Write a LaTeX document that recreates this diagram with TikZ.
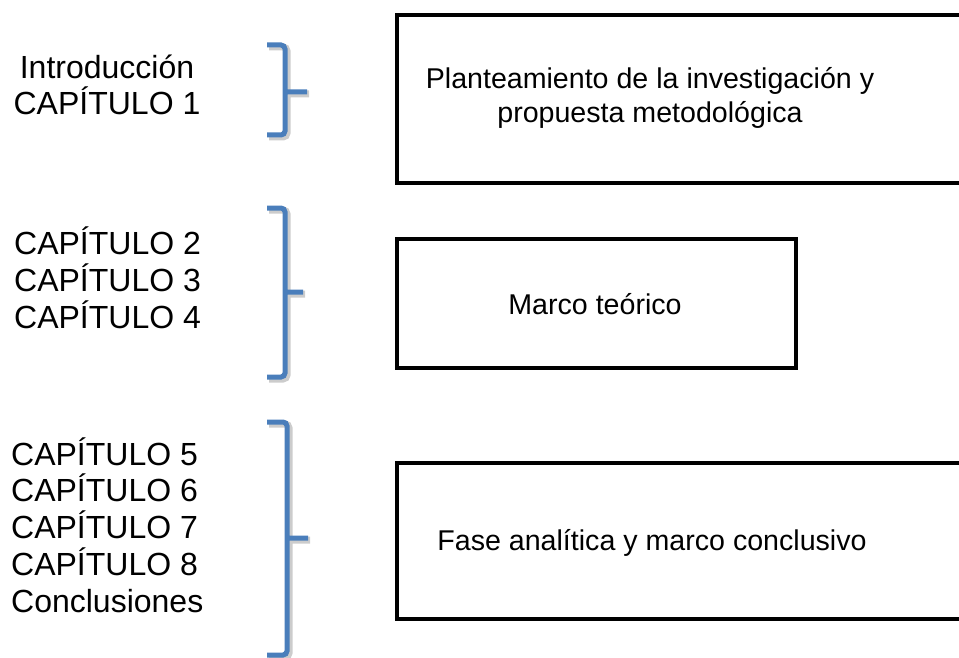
\documentclass[tikz,border=0pt]{standalone}
\usepackage{fontspec}
\setmainfont{Liberation Sans}
\usetikzlibrary{calc}

\definecolor{bracecol}{RGB}{74,126,187}
\tikzset{
  lefttxt/.style={inner sep=0pt, font=\fontsize{32}{36.7}\selectfont},
  boxtxt/.style={inner sep=0pt, align=center, font=\fontsize{28.6}{34}\selectfont},
  chapbox/.style={draw, line width=4pt, inner sep=0pt, anchor=north west}
}

\begin{document}
\begin{tikzpicture}[x=1pt,y=-1pt]
\useasboundingbox (0,0) rectangle (959,658);
\clip (0,0) rectangle (959,658);
% braces: top/mid/bottom/vertical/tip
\foreach \t/\m/\b/\v/\p in {45/92/135/285/307,208/292/377/285/303,422/538/655/287/308}{
  \draw[gray!40, line width=7pt, rounded corners=4pt, shift={(2,2)}]
    (267,\t) -- (\v,\t) -- (\v,\b) -- (267,\b) (\v,\m) -- (\p,\m);
  \draw[bracecol, line width=5pt, rounded corners=4pt]
    (267,\t) -- (\v,\t) -- (\v,\b) -- (267,\b) (\v,\m) -- (\p,\m);
}
% left column
\node[lefttxt, align=center, anchor=base] (intro) at (107,115) {Introducción\\CAPÍTULO 1};
\node[lefttxt, align=left, anchor=base west] (cap24) at (14,328) {CAPÍTULO 2\\CAPÍTULO 3\\CAPÍTULO 4};
\node[lefttxt, align=left, anchor=base west] (cap58) at (11,612) {CAPÍTULO 5\\CAPÍTULO 6\\CAPÍTULO 7\\CAPÍTULO 8\\Conclusiones};
% boxes
\node[chapbox, minimum width=620pt, minimum height=168pt] (plan) at (395,13) {};
\node[chapbox, minimum width=399pt, minimum height=129pt] (marco) at (395,237) {};
\node[chapbox, minimum width=620pt, minimum height=156pt] (fase) at (395,461) {};
\node[boxtxt, anchor=base] (plantxt) at (650,123) {Planteamiento de la investigación y\\propuesta metodológica};
\node[boxtxt, anchor=base] (marcotxt) at (595,314) {Marco teórico};
\node[boxtxt, anchor=base] (fasetxt) at (652,550) {Fase analítica y marco conclusivo};
\end{tikzpicture}
\end{document}
